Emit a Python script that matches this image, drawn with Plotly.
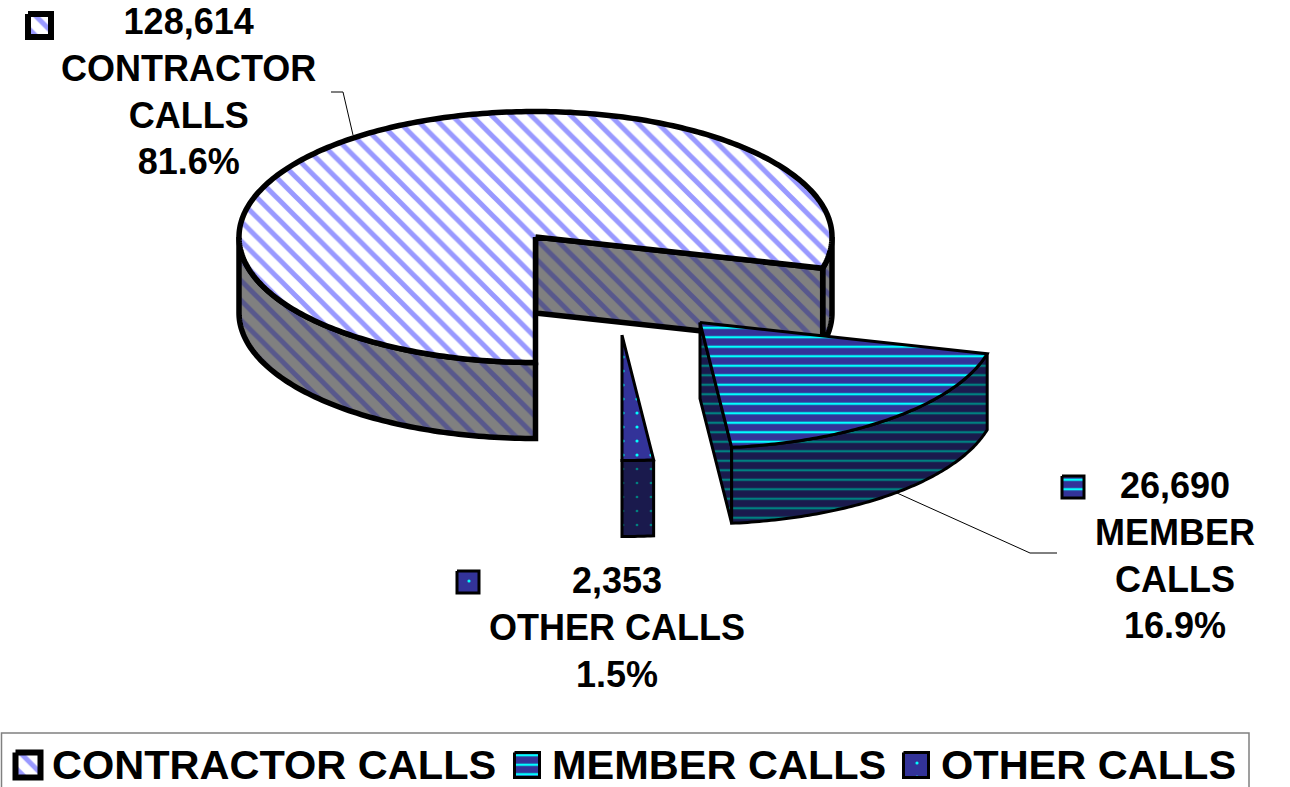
import math
import plotly.graph_objects as go

# ---- data ----
categories = ["CONTRACTOR CALLS", "MEMBER CALLS", "OTHER CALLS"]
calls = [128614, 26690, 2353]
percents = ["81.6%", "16.9%", "1.5%"]
label_names = ["CONTRACTOR<br>CALLS", "MEMBER<br>CALLS", "OTHER CALLS"]

# ---- layout / style ----
W, H = 1290, 787
RX, RY, DEPTH = 296.5, 125.5, 76
ANGLE_STRETCH = 1.14           # the 3-D view widens the near slices
CENTERS = {"CONTRACTOR CALLS": (535.5, 237), "MEMBER CALLS": (700, 322.5), "OTHER CALLS": (622, 335)}
FONT = "Liberation Sans"


def pat(shape, bg, fg, size, solidity):
    return dict(shape=shape, bgcolor=bg, fgcolor=fg, fgopacity=1, fillmode="replace", size=size, solidity=solidity)


TOP = {
    "CONTRACTOR CALLS": pat("\\", "#ffffff", "#9999ff", 14, 0.36),
    "MEMBER CALLS": pat("-", "#333399", "#00ffff", 9.5, 0.24),
    "OTHER CALLS": pat(".", "#333399", "#00ffff", 14, 0.04),
}
SIDE = {
    "CONTRACTOR CALLS": pat("\\", "#808080", "#58588c", 14, 0.36),
    "MEMBER CALLS": pat("-", "#1a1a4d", "#008080", 9.5, 0.24),
    "OTHER CALLS": pat(".", "#1a1a4d", "#008080", 14, 0.03),
}
EDGE = {"CONTRACTOR CALLS": 5.5, "MEMBER CALLS": 3, "OTHER CALLS": 3}

total = sum(calls)
sweep = [v / total * 360 for v in calls]
# slices run counter-clockwise from straight down: OTHER, MEMBER, then CONTRACTOR
t_other_end = 90 - sweep[2] * ANGLE_STRETCH
t_member_end = 90 - (sweep[2] + sweep[1]) * ANGLE_STRETCH


def pt(cat, t, drop=0):
    cx, cy = CENTERS[cat]
    r = math.radians(t)
    return cx + RX * math.cos(r), cy + RY * math.sin(r) + drop


def arc(cat, t0, t1, drop=0, n=90):
    return [pt(cat, t0 + (t1 - t0) * i / n, drop) for i in range(n + 1)]


fig = go.Figure()


def poly(points, pattern, width, name):
    xs = [p[0] for p in points] + [points[0][0]]
    ys = [p[1] for p in points] + [points[0][1]]
    fig.add_trace(go.Scatter(
        x=xs, y=ys, mode="lines", fill="toself", name=name, showlegend=False,
        fillcolor=pattern["bgcolor"], fillpattern=pattern,
        line=dict(color="#000000", width=width, simplify=False), hoverinfo="name",
    ))


def swatch(cx, cy, size, cat, width):
    s = size / 2
    poly([(cx - s, cy - s), (cx + s, cy - s), (cx + s, cy + s), (cx - s, cy + s)], TOP[cat], width, cat)


# contractor slice: sides then top
c = categories[0]
cc = CENTERS[c]
t_end = t_member_end + 360
poly(arc(c, t_member_end, 0, 0, 20) + arc(c, 0, t_member_end, DEPTH, 20), SIDE[c], EDGE[c], c)
p_end = pt(c, t_member_end)
poly([cc, p_end, (p_end[0], p_end[1] + DEPTH), (cc[0], cc[1] + DEPTH)], SIDE[c], EDGE[c], c)
poly(arc(c, 90, 180) + arc(c, 180, 90, DEPTH), SIDE[c], EDGE[c], c)
poly([cc] + arc(c, 90, t_end, 0, 300), TOP[c], EDGE[c], c)

# other slice
c = categories[2]
cc = CENTERS[c]
poly(arc(c, t_other_end, 90, 0, 10) + arc(c, 90, t_other_end, DEPTH, 10), SIDE[c], EDGE[c], c)
poly([cc] + arc(c, t_other_end, 90, 0, 10), TOP[c], EDGE[c], c)

# member slice
c = categories[1]
cc = CENTERS[c]
p_near = pt(c, t_other_end)
poly([cc, p_near, (p_near[0], p_near[1] + DEPTH), (cc[0], cc[1] + DEPTH)], SIDE[c], EDGE[c], c)
poly(arc(c, t_member_end, t_other_end) + arc(c, t_other_end, t_member_end, DEPTH), SIDE[c], EDGE[c], c)
poly([cc] + arc(c, t_member_end, t_other_end), TOP[c], EDGE[c], c)

# leader lines
for lx, ly in ([331, 343, 353], [92, 92, 135]), ([1057, 1030, 897], [553, 553, 493]):
    fig.add_trace(go.Scatter(x=lx, y=ly, mode="lines", showlegend=False, hoverinfo="skip",
                             line=dict(color="#000000", width=1)))

# data labels with their keys
label_pos = [(188, 91.5), (1175, 555), (616.5, 627)]
key_pos = [(39.5, 25.5, 23, 6), (1073, 487, 22, 3), (468, 582, 22, 3)]
annotations = []
for i, cat in enumerate(categories):
    annotations.append(dict(
        x=label_pos[i][0], y=label_pos[i][1], xref="x", yref="y", showarrow=False, align="center",
        text=f"<b>{calls[i]:,}<br>{label_names[i]}<br>{percents[i]}</b>",
        font=dict(family=FONT, size=36, color="#000000"),
    ))
    kx, ky, ks, kw = key_pos[i]
    swatch(kx, ky, ks, cat, kw)

# legend row
legend_text_x = [274, 719, 1088.5]
legend_key_x = [28, 527, 916]
for i, cat in enumerate(categories):
    annotations.append(dict(
        x=legend_text_x[i], y=764, xref="x", yref="y", showarrow=False,
        text=f"<b>{cat}</b>", font=dict(family=FONT, size=41.5, color="#000000"),
    ))
    swatch(legend_key_x[i], 765, 25, cat, 6 if i == 0 else 3)

fig.update_layout(
    width=W, height=H, margin=dict(l=0, r=0, t=0, b=0),
    paper_bgcolor="#ffffff", plot_bgcolor="#ffffff", showlegend=False,
    xaxis=dict(range=[0, W], visible=False, fixedrange=True),
    yaxis=dict(range=[H, 0], visible=False, fixedrange=True),
    annotations=annotations,
    shapes=[dict(type="rect", xref="x", yref="y", x0=1.5, x1=1249, y0=733, y1=790,
                 line=dict(color="#808080", width=1.5), fillcolor="rgba(0,0,0,0)", layer="below")],
)
fig.write_html("out.html", config={"displayModeBar": False},
               post_script="document.body.style.margin='0';document.documentElement.style.overflow='hidden';")
